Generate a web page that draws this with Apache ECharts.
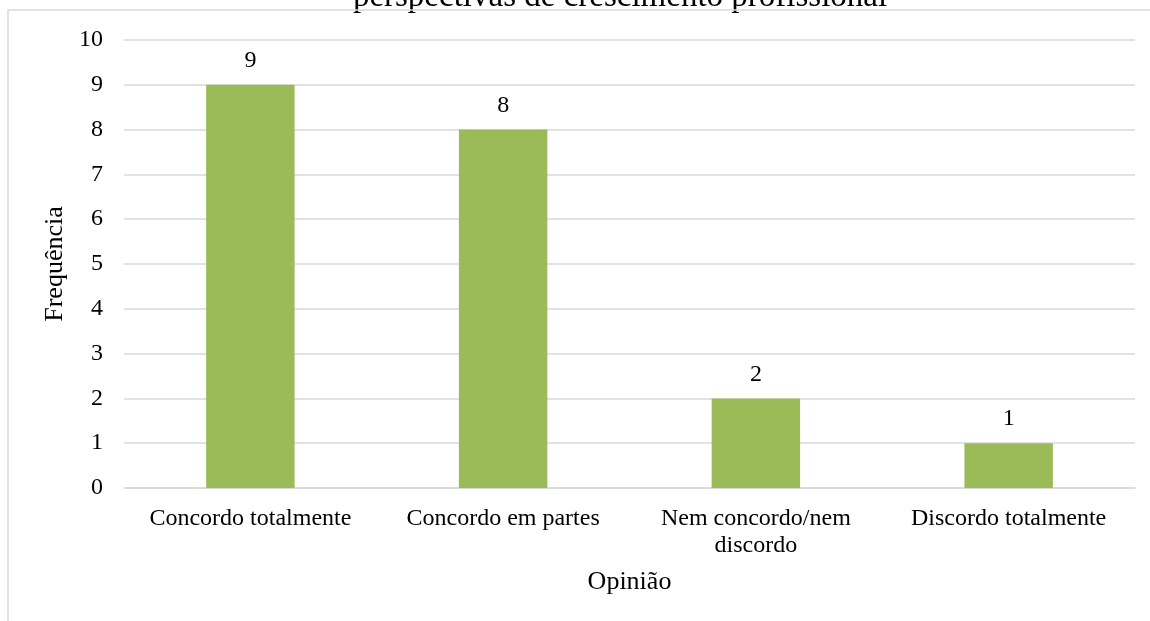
<!DOCTYPE html>
<html>
<head>
<meta charset="utf-8">
<script src="https://cdn.jsdelivr.net/npm/echarts@6/dist/echarts.min.js"></script>
<style>
  html, body { margin: 0; padding: 0; background: #fff; }
  #main { width: 1150px; height: 621px; }
</style>
</head>
<body>
<div id="main"></div>
<script>
// categorias e frequências
const categorias = ['Concordo totalmente', 'Concordo em partes', 'Nem concordo/nem\ndiscordo', 'Discordo totalmente'];
const frequencias = [9, 8, 2, 1];
const yTicks = [0, 10, 1]; // min, max, intervalo

const fonte = 'Liberation Serif';
const chart = echarts.init(document.getElementById('main'));

chart.setOption({
  animation: false,
  backgroundColor: '#fff',
  graphic: [
    {
      type: 'rect',
      shape: { x: 8, y: 10, width: 1160, height: 640 },
      style: { fill: 'none', stroke: '#d9d9d9', lineWidth: 1.5 },
      silent: true
    },
    {
      // título cortado no topo da imagem
      type: 'text',
      x: 620,
      y: 14,
      z: -1,
      style: {
        text: 'perspectivas de crescimento profissional',
        font: '33px "' + fonte + '"',
        fill: '#000',
        align: 'center',
        verticalAlign: 'bottom'
      }
    }
  ],
  grid: { left: 124, right: 15, top: 40, bottom: 133 },
  xAxis: {
    type: 'category',
    data: categorias,
    name: 'Opinião',
    nameLocation: 'middle',
    nameGap: 81,
    nameTextStyle: { fontFamily: fonte, fontSize: 26, color: '#000' },
    axisLine: { lineStyle: { color: '#d9d9d9', width: 1.5 } },
    axisTick: { show: false },
    axisLabel: {
      interval: 0,
      margin: 17,
      fontFamily: fonte,
      fontSize: 24,
      lineHeight: 27,
      color: '#000'
    }
  },
  yAxis: {
    type: 'value',
    min: yTicks[0],
    max: yTicks[1],
    interval: yTicks[2],
    name: 'Frequência',
    nameLocation: 'middle',
    nameRotate: 90,
    nameGap: 48,
    nameTextStyle: { fontFamily: fonte, fontSize: 26, color: '#000' },
    axisLine: { show: false },
    axisTick: { show: false },
    axisLabel: { margin: 21, fontFamily: fonte, fontSize: 24, color: '#000' },
    splitLine: { lineStyle: { color: '#d9d9d9', width: 1.5 } }
  },
  series: [{
    type: 'bar',
    data: frequencias,
    barWidth: '35%',
    itemStyle: { color: '#9bbb59' },
    label: {
      show: true,
      position: 'top',
      distance: 12,
      fontFamily: fonte,
      fontSize: 24,
      color: '#000'
    }
  }]
});
</script>
</body>
</html>
